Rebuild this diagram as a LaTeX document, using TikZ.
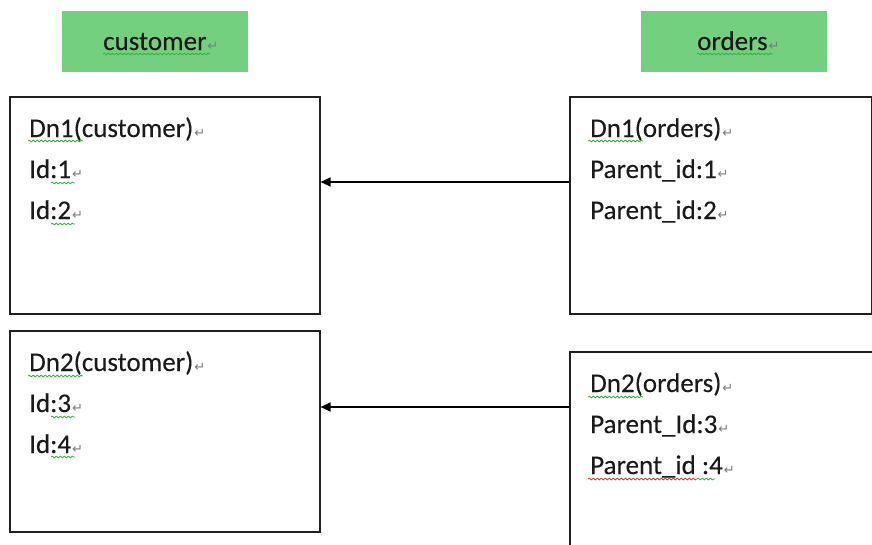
\documentclass[tikz,border=0pt]{standalone}
\usepackage{fontspec}
\setmainfont{Carlito}[FakeBold=0.12]
\newfontfamily\markfont{DejaVu Sans}
\usetikzlibrary{arrows.meta,decorations.pathmorphing}
\definecolor{hdrgreen}{HTML}{73D07E}
\definecolor{edgegray}{HTML}{202020}
\definecolor{textdark}{HTML}{1A1A1A}
\definecolor{parmark}{HTML}{7A7A7A}
\definecolor{spellgreen}{HTML}{3DAE4A}
\definecolor{spellred}{HTML}{E23A3A}
% paragraph mark after each line
\newcommand{\pmark}{\hspace{1pt}{\markfont\fontsize{13}{13}\selectfont\textcolor{parmark}{↵}}}

\begin{document}
\begin{tikzpicture}[x=1pt,y=-1pt,
  hdr/.style={fill=hdrgreen, draw=none, anchor=north west, inner sep=0,
              minimum width=186pt, minimum height=61pt},
  tbl/.style={draw=edgegray, line width=1.6pt, anchor=north west, inner sep=0},
  txt/.style={anchor=base west, inner sep=0, text=textdark,
              font=\fontsize{27}{33}\selectfont},
  conn/.style={draw=black, line width=1.4pt, -{Triangle[length=10pt,width=9pt]}},
  squig/.style={decorate, decoration={snake, segment length=4pt, amplitude=0.9pt},
                line width=0.8pt}]
\clip (0,0) rectangle (872,544);

% table headers
\node[hdr] (hc) at (62,11) {};
\node[hdr] (ho) at (641,11) {};
\node[txt] (hct) at (103,50) {customer\pmark};
\node[txt] (hot) at (697,50) {orders\pmark};

% customer tables
\node[tbl, minimum width=310pt, minimum height=217pt] (c1) at (9,96) {};
\node[tbl, minimum width=310pt, minimum height=201pt] (c2) at (9,330) {};
% orders tables
\node[tbl, minimum width=302pt, minimum height=217pt] (o1) at (569,96) {};
\node[tbl, minimum width=310pt, minimum height=220pt] (o2) at (569,351) {};

% rows of customer tables
\node[txt] (c1a) at (29,137) {Dn1(customer)\pmark};
\node[txt] (c1b) at (29,178) {Id:1\pmark};
\node[txt] (c1c) at (29,219) {Id:2\pmark};
\node[txt] (c2a) at (29,371) {Dn2(customer)\pmark};
\node[txt] (c2b) at (29,412) {Id:3\pmark};
\node[txt] (c2c) at (29,453) {Id:4\pmark};

% rows of orders tables
\node[txt] (o1a) at (590,137) {Dn1(orders)\pmark};
\node[txt] (o1b) at (590,178) {Parent\_id:1\pmark};
\node[txt] (o1c) at (590,219) {Parent\_id:2\pmark};
\node[txt] (o2a) at (590,392) {Dn2(orders)\pmark};
\node[txt] (o2b) at (590,433) {Parent\_Id:3\pmark};
\node[txt] (o2c) at (590,474) {Parent\_id :4\pmark};

% references from orders to customer
\coordinate (r1) at (0,182);
\coordinate (r2) at (0,407);
\draw[conn] (o1.west |- r1) -- (c1.east |- r1);
\draw[conn] (o2.west |- r2) -- (c2.east |- r2);

% spelling marks under words
\draw[squig, spellgreen] (103,54) -- (210,54);
\draw[squig, spellgreen] (697,54) -- (773,54);
\draw[squig, spellgreen] (28,141) -- (83,141);
\draw[squig, spellgreen] (51,183) -- (75,183);
\draw[squig, spellgreen] (51,224) -- (75,224);
\draw[squig, spellgreen] (588,141) -- (643,141);
\draw[squig, spellgreen] (28,376) -- (83,376);
\draw[squig, spellgreen] (51,417) -- (75,417);
\draw[squig, spellgreen] (51,457) -- (75,457);
\draw[squig, spellgreen] (588,397) -- (643,397);
\draw[squig, spellred] (588,479) -- (697,479);
\draw[squig, spellgreen] (697,479) -- (715,479);
\end{tikzpicture}
\end{document}
